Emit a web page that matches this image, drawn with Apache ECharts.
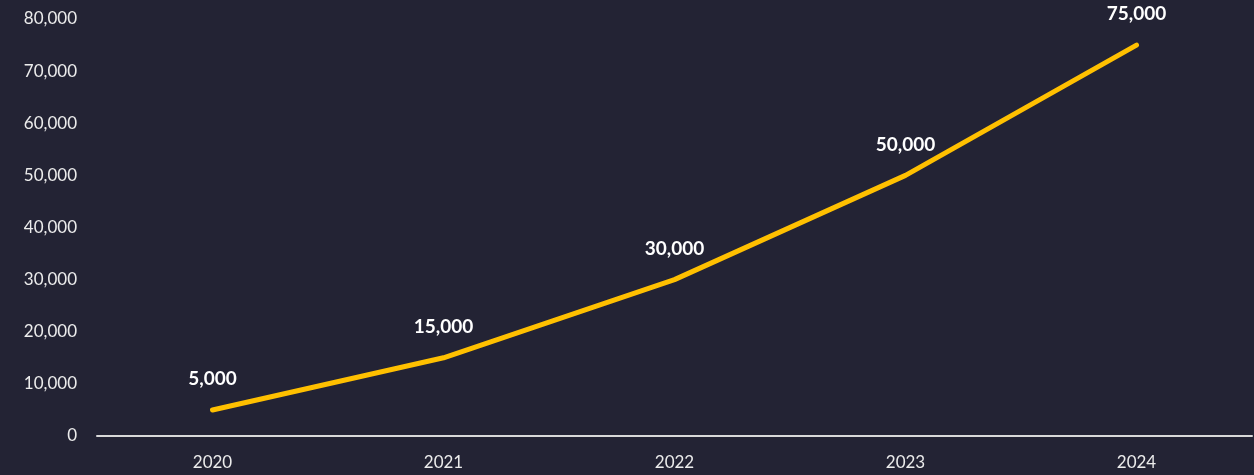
<!DOCTYPE html>
<html>
<head>
<meta charset="utf-8">
<script src="https://cdn.jsdelivr.net/npm/echarts@6/dist/echarts.min.js"></script>
<style>
html,body{margin:0;padding:0;background:#232334;}
#chart{width:1254px;height:475px;}
</style>
</head>
<body>
<div id="chart"></div>
<script>
const categories = ['2020', '2021', '2022', '2023', '2024'];
const values = [5000, 15000, 30000, 50000, 75000];
const yTicks = [0, 10000, 20000, 30000, 40000, 50000, 60000, 70000, 80000];

const chart = echarts.init(document.getElementById('chart'));
const fmt = v => v.toLocaleString('en-US');
chart.setOption({
  backgroundColor: '#232334',
  animation: false,
  grid: { left: 97, right: 2, top: 19, bottom: 39, containLabel: false },
  xAxis: {
    type: 'category',
    data: categories,
    boundaryGap: true,
    axisLine: { show: true, lineStyle: { color: '#d9d9d9', width: 2 } },
    axisTick: { show: false },
    axisLabel: { color: '#ececec', fontSize: 17, fontFamily: 'Lato', margin: 18 },
    splitLine: { show: false }
  },
  yAxis: {
    type: 'value',
    min: yTicks[0],
    max: yTicks[yTicks.length - 1],
    interval: 10000,
    axisLine: { show: false },
    axisTick: { show: false },
    splitLine: { show: false },
    axisLabel: { color: '#ececec', fontSize: 17, fontFamily: 'Lato', margin: 20, formatter: fmt }
  },
  series: [{
    type: 'line',
    data: values,
    symbol: 'circle',
    symbolSize: 1,
    showSymbol: true,
    itemStyle: { color: 'rgba(0,0,0,0)', borderWidth: 0 },
    lineStyle: { color: '#FFC000', width: 5, cap: 'round', join: 'round' },
    label: {
      show: true,
      position: 'top',
      distance: 21,
      color: '#ffffff',
      fontSize: 19,
      fontWeight: 'bold',
      fontFamily: 'Lato',
      formatter: p => fmt(p.value)
    }
  }]
});
</script>
</body>
</html>
